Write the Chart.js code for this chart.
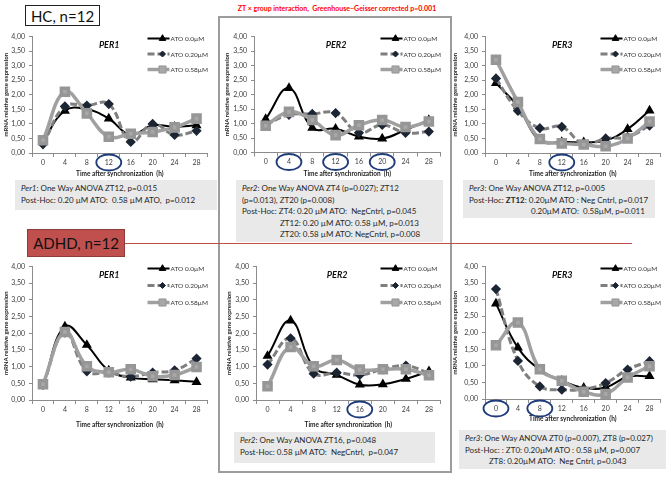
<!DOCTYPE html>
<html>
<head>
<meta charset="utf-8">
<script src="https://cdn.jsdelivr.net/npm/chart.js@4/dist/chart.umd.min.js"></script>
<style>
  body { margin: 0; background: #fff; }
  #page { position: relative; width: 669px; height: 477px; overflow: hidden; font-family: Lato, 'Open Sans', sans-serif; }
  .abs { position: absolute; box-sizing: border-box; }
  .frame { left: 218px; top: 16px; width: 234px; height: 457px; border: 2px solid #9c9c9c; }
  .group { font-size: 15px; color: #111; display: flex; align-items: center; justify-content: center; }
  .hc { left: 25px; top: 5px; width: 75px; height: 21px; border: 1.5px solid #222; background: #fff; }
  .adhd { left: 27px; top: 229px; width: 98px; height: 28px; border: 1px solid #8e3b39; background: #c0504d; }
  .redline { left: 125px; top: 243px; width: 507px; height: 1px; background: #c0504d; }
  .note { font-weight: bold; color: #ff0000; font-size: 7px; left: 222px; top: 4px; width: 230px; text-align: center; white-space: nowrap; }
  .box { background: #e9e9e9; color: #262626; font-size: 8px; white-space: nowrap; padding: 3px 0 0 6px; }
  .box div { height: 11.5px; line-height: 11.5px; }
  canvas { position: absolute; }
</style>
</head>
<body>
<div id="page">
  <div class="abs frame"></div>
  <div class="abs note">ZT × group interaction,&nbsp; Greenhouse–Geisser corrected p=0.001</div>
  <div class="abs group hc">HC, n=12</div>
  <div class="abs redline"></div>
  <div class="abs group adhd">ADHD, n=12</div>

  <div class="abs box" style="left:15px;top:180px;width:202px;height:30px;">
    <div><i>Per1</i>: One Way ANOVA ZT12, p=0.015</div>
    <div>Post-Hoc: 0.20 µM ATO:&nbsp; 0.58 µM ATO,&nbsp; p=0.012</div>
  </div>
  <div class="abs box" style="left:236px;top:180px;width:207px;height:62px;">
    <div><i>Per2</i>: One Way ANOVA ZT4 (p=0.027); ZT12</div>
    <div>(p=0.013), ZT20 (p=0.008)</div>
    <div>Post-Hoc: ZT4: 0.20 µM ATO:&nbsp; NegCntrl, p=0.045</div>
    <div style="padding-left:38px">ZT12: 0.20 µM ATO: 0.58 µM, p=0.013</div>
    <div style="padding-left:38px">ZT20: 0.58 µM ATO: NegCntrl, p=0.008</div>
  </div>
  <div class="abs box" style="left:463px;top:180px;width:192px;height:38px;">
    <div><i>Per3</i>: One Way ANOVA ZT12, p=0.005</div>
    <div>Post-Hoc: <b>ZT12</b>: 0.20µM ATO : Neg Cntrl, p=0.017</div>
    <div style="padding-left:62px">0.20µM ATO:&nbsp; 0.58µM, p=0.011</div>
  </div>
  <div class="abs box" style="left:234px;top:432px;width:201px;height:31px;">
    <div><i>Per2</i>: One Way ANOVA ZT16, p=0.048</div>
    <div>Post-Hoc: 0.58 µM ATO:&nbsp; NegCntrl,&nbsp; p=0.047</div>
  </div>
  <div class="abs box" style="left:459px;top:430px;width:207px;height:39px;padding-left:6px;">
    <div><i>Per3</i>: One Way ANOVA ZT0 (p=0.007), ZT8 (p=0.027)</div>
    <div>Post-Hoc: : ZT0: 0.20µM ATO : 0.58 µM, p=0.007</div>
    <div style="padding-left:24px">ZT8: 0.20µM ATO:&nbsp; Neg Cntrl, p=0.043</div>
  </div>
</div>

<script>
// time after synchronization (h)
const hours = ['0', '4', '8', '12', '16', '20', '24', '28'];
const doseLabels = ['ATO 0.0µM', 'ATO 0.20µM', 'ATO 0.58µM'];
const yTickValues = [0, 0.5, 1, 1.5, 2, 2.5, 3, 3.5, 4];

// HC, n=12
const hcPer1Ato000 = [0.40, 1.45, 1.50, 1.18, 0.62, 0.95, 0.90, 0.95];
const hcPer1Ato020 = [0.30, 1.60, 1.63, 1.68, 0.38, 1.00, 0.62, 0.76];
const hcPer1Ato058 = [0.44, 2.10, 1.36, 0.56, 0.66, 0.72, 0.88, 1.18];

const hcPer2Ato000 = [1.15, 2.22, 0.85, 0.82, 0.55, 0.48, 0.78, 1.12];
const hcPer2Ato020 = [0.95, 1.30, 1.33, 1.36, 0.68, 0.95, 0.68, 0.72];
const hcPer2Ato058 = [0.92, 1.40, 1.12, 0.60, 0.94, 1.12, 0.88, 1.07];

const hcPer3Ato000 = [2.40, 1.60, 0.42, 0.38, 0.37, 0.43, 0.82, 1.46];
const hcPer3Ato020 = [2.56, 1.45, 0.85, 0.90, 0.30, 0.50, 0.55, 0.94];
const hcPer3Ato058 = [3.20, 1.75, 0.48, 0.33, 0.29, 0.23, 0.50, 1.08];

// ADHD, n=12
const adhdPer1Ato000 = [0.43, 2.20, 1.65, 0.88, 0.67, 0.62, 0.59, 0.54];
const adhdPer1Ato020 = [0.45, 2.02, 0.86, 0.82, 0.70, 0.82, 0.89, 1.24];
const adhdPer1Ato058 = [0.47, 2.04, 1.01, 0.83, 0.92, 0.71, 0.75, 0.99];

const adhdPer2Ato000 = [1.32, 2.38, 0.98, 0.75, 0.46, 0.47, 0.63, 0.86];
const adhdPer2Ato020 = [1.06, 1.85, 0.79, 0.82, 0.75, 0.92, 1.03, 0.80];
const adhdPer2Ato058 = [0.41, 1.59, 1.01, 1.20, 0.91, 0.92, 0.92, 0.74];

const adhdPer3Ato000 = [2.88, 1.55, 0.89, 0.55, 0.34, 0.35, 0.67, 0.69];
const adhdPer3Ato020 = [3.32, 1.15, 0.38, 0.28, 0.30, 0.48, 0.89, 1.14];
const adhdPer3Ato058 = [1.62, 2.31, 0.90, 0.55, 0.22, 0.15, 0.65, 0.99];

const FONT = "Lato, 'Open Sans', sans-serif";

// line look of each dose, same order as doseLabels
const seriesStyle = [
  { borderColor: '#000', borderWidth: 2, pointStyle: 'triangle', pointRadius: 3.8,
    pointBackgroundColor: '#000', pointBorderColor: '#000', order: 3 },
  { borderColor: '#7f7f7f', borderWidth: 3, borderDash: [7, 3], pointStyle: 'rectRot', pointRadius: 3,
    pointBackgroundColor: '#1c2533', pointBorderColor: '#1c2533', order: 2 },
  { borderColor: '#a0a0a0', borderWidth: 3.5, pointStyle: 'rect', pointRadius: 5,
    pointBackgroundColor: '#a8a8a8', pointBorderColor: '#969696', order: 1 },
];

// canvas box [left, top, width, height] and plot area [x0, y0, x1, y1], page px
const panels = [
  { gene: 'PER1', values: [hcPer1Ato000, hcPer1Ato020, hcPer1Ato058], marked: ['12'],
    canvas: [0, 28, 216, 150], plot: [32, 33, 212, 153], rowGap: 15.5 },
  { gene: 'PER2', values: [hcPer2Ato000, hcPer2Ato020, hcPer2Ato058], marked: ['4', '12', '20'],
    canvas: [221, 28, 228, 150], plot: [254, 33, 444, 152.5], rowGap: 15.5 },
  { gene: 'PER3', values: [hcPer3Ato000, hcPer3Ato020, hcPer3Ato058], marked: ['12'],
    canvas: [449, 28, 220, 150], plot: [485, 33, 663, 153], rowGap: 15.5 },
  { gene: 'PER1', values: [adhdPer1Ato000, adhdPer1Ato020, adhdPer1Ato058], marked: [],
    canvas: [0, 258, 216, 171], plot: [32, 262, 212, 400], rowGap: 17 },
  { gene: 'PER2', values: [adhdPer2Ato000, adhdPer2Ato020, adhdPer2Ato058], marked: ['16'],
    canvas: [223, 258, 226, 171], plot: [256, 262, 445, 400], rowGap: 17 },
  { gene: 'PER3', values: [adhdPer3Ato000, adhdPer3Ato020, adhdPer3Ato058], marked: ['0', '8'],
    canvas: [449, 258, 220, 165], plot: [485, 265, 663, 399], rowGap: 17 },
];

function drawMarker(ctx, style, r, x, y) {
  ctx.beginPath();
  if (style === 'triangle') {
    ctx.moveTo(x, y - r);
    ctx.lineTo(x + r * 0.87, y + r * 0.5);
    ctx.lineTo(x - r * 0.87, y + r * 0.5);
  } else if (style === 'rectRot') {
    ctx.moveTo(x, y - r); ctx.lineTo(x + r, y); ctx.lineTo(x, y + r); ctx.lineTo(x - r, y);
  } else {
    const h = r * Math.SQRT1_2;
    ctx.rect(x - h, y - h, 2 * h, 2 * h);
  }
  ctx.closePath();
  ctx.fill();
  ctx.stroke();
}

// gene name, inner legend and the blue rings round some hours
const panelDecor = {
  id: 'panelDecor',
  afterDraw(chart, args, opts) {
    const { ctx, chartArea: area } = chart;
    const xScale = chart.scales.x;
    ctx.save();
    ctx.textBaseline = 'middle';

    ctx.font = `italic bold 9px ${FONT}`;
    ctx.fillStyle = '#111';
    ctx.textAlign = 'center';
    ctx.fillText(opts.gene, area.left + area.width * 0.44, area.top + 9);

    chart.data.datasets.forEach((ds, i) => {
      const y = area.top + 2 + i * opts.rowGap;
      const x0 = area.right - 60;
      ctx.beginPath();
      ctx.setLineDash(ds.borderDash || []);
      ctx.lineWidth = ds.borderWidth;
      ctx.strokeStyle = ds.borderColor;
      ctx.moveTo(x0, y);
      ctx.lineTo(x0 + 22, y);
      ctx.stroke();
      ctx.setLineDash([]);
      ctx.lineWidth = 1;
      ctx.fillStyle = ds.pointBackgroundColor;
      ctx.strokeStyle = ds.pointBorderColor;
      drawMarker(ctx, ds.pointStyle, ds.pointRadius, x0 + 15, y);
      ctx.fillStyle = '#333';
      ctx.font = `6.5px ${FONT}`;
      ctx.textAlign = 'left';
      ctx.fillText(ds.label, x0 + 23, y + 0.5);
    });

    ctx.strokeStyle = '#1f3c7a';
    ctx.lineWidth = 1.8;
    opts.marked.forEach(h => {
      const cx = xScale.getPixelForValue(hours.indexOf(h));
      ctx.beginPath();
      ctx.ellipse(cx, area.bottom + 9.5, 12.5, 8, 0, 0, Math.PI * 2);
      ctx.stroke();
    });
    ctx.restore();
  },
};

function makeChart(p) {
  const [cx, cy, cw, ch] = p.canvas;
  const [px0, py0, px1, py1] = p.plot;
  const el = document.createElement('canvas');
  el.width = cw;
  el.height = ch;
  el.style.left = cx + 'px';
  el.style.top = cy + 'px';
  el.style.width = cw + 'px';
  el.style.height = ch + 'px';
  document.getElementById('page').appendChild(el);

  new Chart(el, {
    type: 'line',
    data: {
      labels: hours,
      datasets: p.values.map((v, i) => ({
        label: doseLabels[i],
        data: v,
        tension: 0.42,
        fill: false,
        clip: false,
        ...seriesStyle[i],
      })),
    },
    options: {
      responsive: false,
      animation: false,
      devicePixelRatio: 1,
      layout: { padding: { top: py0 - cy, right: cx + cw - px1, left: 0, bottom: 0 } },
      plugins: {
        legend: { display: false },
        tooltip: { enabled: false },
        panelDecor: { gene: p.gene, marked: p.marked, rowGap: p.rowGap },
      },
      scales: {
        x: {
          offset: true,
          grid: { offset: true, drawOnChartArea: false, tickLength: 4, color: '#8c8c8c' },
          border: { color: '#8c8c8c' },
          ticks: { padding: 1.5, color: '#404040', font: { family: FONT, size: 7 } },
          title: { display: true, text: 'Time after synchronization  (h)', color: '#222',
                   padding: 0, font: { family: FONT, size: 6.5, weight: 'bold' } },
          afterFit: s => { s.height = cy + ch - py1; },
        },
        y: {
          min: 0,
          max: 4,
          afterBuildTicks: s => { s.ticks = yTickValues.map(v => ({ value: v })); },
          grid: { drawOnChartArea: false, tickLength: 3, color: '#8c8c8c' },
          border: { color: '#8c8c8c' },
          ticks: { padding: 4, color: '#404040', font: { family: FONT, size: 7 },
                   callback: v => v.toFixed(2).replace('.', ',') },
          title: { display: true, text: 'mRNA relative gene expression', color: '#222',
                   padding: { top: 2, bottom: 0 }, font: { family: FONT, size: 6, weight: 'bold' } },
          afterFit: s => { s.width = px0 - cx; },
        },
      },
    },
    plugins: [panelDecor],
  });
}

panels.forEach(makeChart);
</script>
</body>
</html>
